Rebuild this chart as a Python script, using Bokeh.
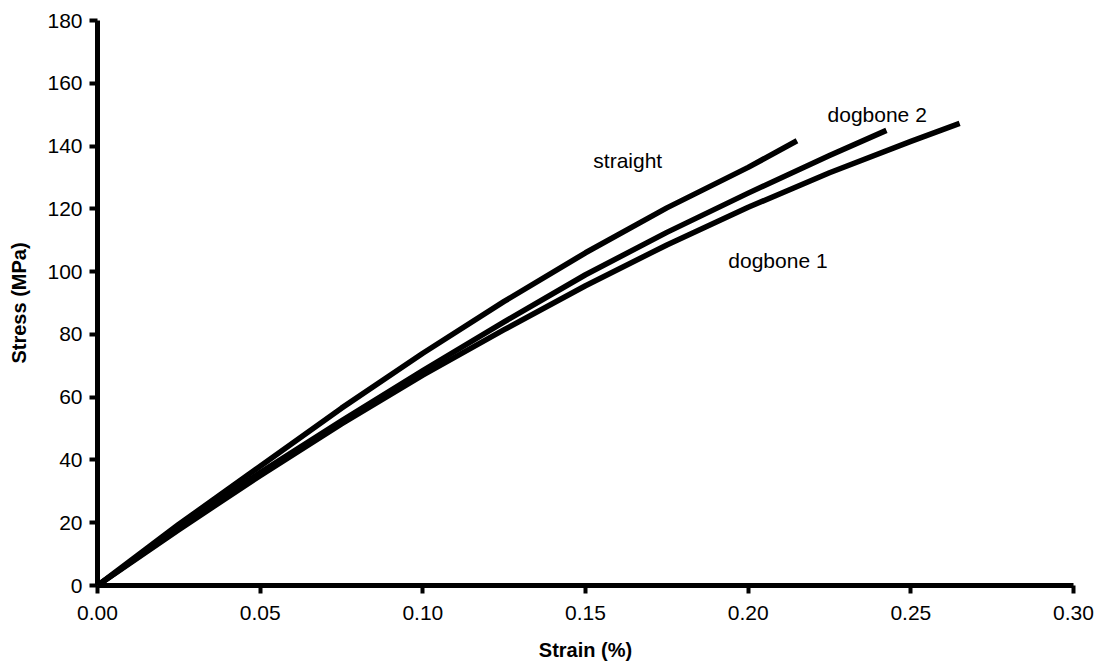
from bokeh.plotting import figure
from bokeh.models import FixedTicker, NumeralTickFormatter, Range1d
from bokeh.core.properties import value
from bokeh.embed import file_html
from bokeh.resources import INLINE

# Data (strain %, stress MPa)
straight_strain = [0.0, 0.025, 0.05, 0.075, 0.10, 0.125, 0.15, 0.175, 0.20, 0.215]
straight_stress = [0.0, 19.5, 38.0, 56.5, 74.0, 90.5, 106.0, 120.3, 133.2, 141.7]

dogbone2_strain = [0.0, 0.025, 0.05, 0.075, 0.10, 0.125, 0.15, 0.175, 0.20, 0.225, 0.2425]
dogbone2_stress = [0.0, 18.3, 36.0, 52.5, 68.5, 84.0, 99.0, 112.5, 125.0, 137.0, 145.0]

dogbone1_strain = [0.0, 0.025, 0.05, 0.075, 0.10, 0.125, 0.15, 0.175, 0.20, 0.225, 0.25, 0.265]
dogbone1_stress = [0.0, 17.8, 35.0, 51.5, 67.0, 81.5, 95.5, 108.5, 120.5, 131.5, 141.5, 147.2]

labels = ["straight", "dogbone 2", "dogbone 1"]
label_x = [0.1524, 0.2244, 0.1939]
label_y = [135.4, 150.0, 103.5]

x_ticks = [0.0, 0.05, 0.10, 0.15, 0.20, 0.25, 0.30]
y_ticks = [0, 20, 40, 60, 80, 100, 120, 140, 160, 180]

FONT = "Liberation Sans"

p = figure(width=1097, height=666, output_backend="svg", toolbar_location=None,
           x_range=Range1d(0, 0.30), y_range=Range1d(0, 180),
           min_border_left=97, min_border_right=24, min_border_top=20, min_border_bottom=81)
p.outline_line_color = None
p.xgrid.visible = False
p.ygrid.visible = False
p.background_fill_color = "white"
p.border_fill_color = "white"

for ax in (p.xaxis[0], p.yaxis[0]):
    ax.axis_line_width = 5
    ax.axis_line_color = "black"
    ax.major_tick_line_width = 4
    ax.major_tick_line_color = "black"
    ax.major_tick_out = 8
    ax.major_tick_in = 0
    ax.minor_tick_line_color = None
    ax.major_label_text_font = FONT
    ax.major_label_text_font_size = "21px"
    ax.major_label_text_color = "black"
    ax.axis_label_text_font = FONT
    ax.axis_label_text_font_size = "20px"
    ax.axis_label_text_font_style = "bold"
    ax.axis_label_text_color = "black"

p.xaxis[0].ticker = FixedTicker(ticks=x_ticks)
p.yaxis[0].ticker = FixedTicker(ticks=y_ticks)
p.xaxis[0].formatter = NumeralTickFormatter(format="0.00")
p.xaxis[0].axis_label = "Strain (%)"
p.yaxis[0].axis_label = "Stress (MPa)"
p.xaxis[0].major_label_standoff = 12
p.xaxis[0].axis_label_standoff = 16
p.yaxis[0].major_label_standoff = 7
p.yaxis[0].axis_label_standoff = 14

for xs, ys in ((straight_strain, straight_stress),
               (dogbone2_strain, dogbone2_stress),
               (dogbone1_strain, dogbone1_stress)):
    p.line(xs, ys, line_color="black", line_width=5.5, line_join="round")

p.text(x=label_x, y=label_y, text=labels, text_font=value(FONT),
       text_font_size="21px", text_baseline="alphabetic", text_align="left",
       text_color="black")

open("out.html", "w").write(file_html(p, INLINE))
